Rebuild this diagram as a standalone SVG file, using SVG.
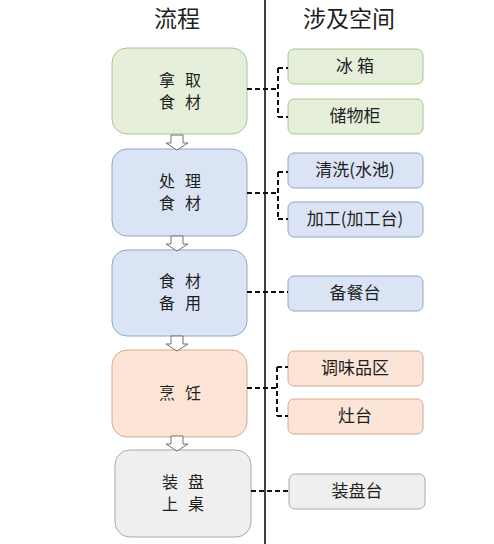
<svg xmlns="http://www.w3.org/2000/svg" width="494" height="544" viewBox="0 0 494 544">
<defs>
<style>
text{font-family:"Noto Sans CJK SC","Noto Sans",sans-serif;fill:#1e1e1e;text-anchor:middle}
.h{font-size:23px}
.n{font-size:16px;letter-spacing:10px}
.r{font-size:17px}
.g{fill:#e5efda;stroke:#a9c48e;stroke-width:1}
.b{fill:#dbe4f4;stroke:#8fa5cb;stroke-width:1}
.o{fill:#fce4d6;stroke:#d8a98e;stroke-width:1}
.y{fill:#efefef;stroke:#a8a8a8;stroke-width:1}
.c{fill:none;stroke:#111;stroke-width:2;stroke-dasharray:5 3}
.ar{fill:#fff;stroke:#707070;stroke-width:1}
</style>
<path id="arr" d="M171,0 H183 V8 H188 L177,15 L166,8 H171 Z"/>
</defs>
<rect width="494" height="544" fill="#fff"/>
<line x1="265" y1="0" x2="265" y2="544" stroke="#000" stroke-width="1.5"/>
<text class="h" x="177" y="27">流程</text>
<text class="h" x="349" y="27">涉及空间</text>

<g id="n1"><rect class="g" x="112" y="48" width="135" height="86" rx="15"/><text class="n" x="185" y="86">拿取</text><text class="n" x="185" y="108">食材</text></g>
<g id="n2"><rect class="b" x="112" y="149" width="135" height="87" rx="15"/><text class="n" x="185" y="187">处理</text><text class="n" x="185" y="209">食材</text></g>
<g id="n3"><rect class="b" x="112" y="250" width="135" height="86" rx="15"/><text class="n" x="185" y="287">食材</text><text class="n" x="185" y="309">备用</text></g>
<g id="n4"><rect class="o" x="112" y="350" width="135" height="87" rx="15"/><text class="n" x="185" y="399">烹饪</text></g>
<g id="n5"><rect class="y" x="115" y="450" width="136" height="87" rx="15"/><text class="n" x="188" y="488">装盘</text><text class="n" x="188" y="510">上桌</text></g>

<g id="r1"><rect class="g" x="288" y="49" width="135" height="35" rx="6"/><text class="r" x="355" y="72">冰 箱</text></g>
<g id="r2"><rect class="g" x="288" y="99" width="135" height="35" rx="6"/><text class="r" x="355" y="122">储物柜</text></g>
<g id="r3"><rect class="b" x="288" y="153" width="135" height="35" rx="6"/><text class="r" x="355" y="176">清洗(水池)</text></g>
<g id="r4"><rect class="b" x="288" y="202" width="135" height="35" rx="6"/><text class="r" x="355" y="225">加工(加工台)</text></g>
<g id="r5"><rect class="b" x="288" y="276" width="135" height="35" rx="6"/><text class="r" x="355" y="299">备餐台</text></g>
<g id="r6"><rect class="o" x="288" y="351" width="135" height="35" rx="6"/><text class="r" x="355" y="374">调味品区</text></g>
<g id="r7"><rect class="o" x="288" y="399" width="135" height="35" rx="6"/><text class="r" x="355" y="422">灶台</text></g>
<g id="r8"><rect class="y" x="289" y="474" width="136" height="35" rx="6"/><text class="r" x="357" y="497">装盘台</text></g>

<g id="connectors">
<path class="c" d="M247,89 H278 M278,68 V117 M278,68 H288 M278,117 H288"/>
<path class="c" d="M247,193 H278 M278,172 V219 M278,172 H288 M278,219 H288"/>
<path class="c" d="M247,292 H288"/>
<path class="c" d="M247,388 H277 M277,367 V416 M277,367 H288 M277,416 H288"/>
<path class="c" d="M251,491 H289"/>
<use href="#arr" class="ar" x="0" y="135"/>
<use href="#arr" class="ar" x="0" y="236"/>
<use href="#arr" class="ar" x="0" y="336"/>
<use href="#arr" class="ar" x="0" y="436"/>
</g>
</svg>
